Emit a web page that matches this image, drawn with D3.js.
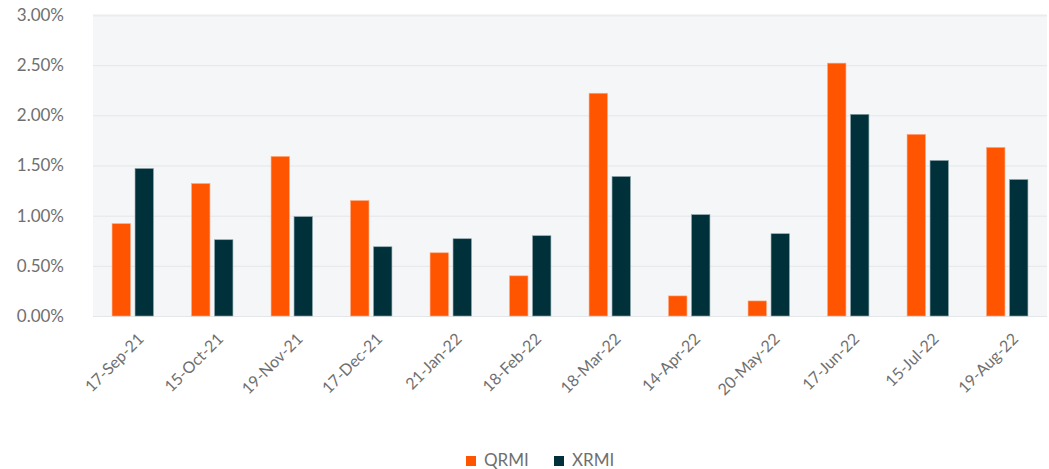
<!DOCTYPE html>
<html>
<head>
<meta charset="utf-8">
<script src="https://cdn.jsdelivr.net/npm/d3@7"></script>
<style>
  body { margin: 0; background: #fff; }
  svg { display: block; font-family: Lato, "Open Sans", sans-serif; }
</style>
</head>
<body>
<svg></svg>
<script>
// Chart data
const dates = ["17-Sep-21", "15-Oct-21", "19-Nov-21", "17-Dec-21", "21-Jan-22", "18-Feb-22",
               "18-Mar-22", "14-Apr-22", "20-May-22", "17-Jun-22", "15-Jul-22", "19-Aug-22"];
const qrmi = [0.92, 1.32, 1.59, 1.15, 0.63, 0.40, 2.22, 0.20, 0.15, 2.52, 1.81, 1.68];
const xrmi = [1.47, 0.76, 0.99, 0.69, 0.77, 0.80, 1.39, 1.01, 0.82, 2.01, 1.55, 1.36];
const seriesNames = ["QRMI", "XRMI"];
const yTicks = [0, 0.5, 1, 1.5, 2, 2.5, 3];

const width = 1049;
const height = 469;
const margin = { top: 15, right: 2, bottom: 153, left: 93 };
const colors = { QRMI: "#ff5500", XRMI: "#00303a" };

const svg = d3.select("svg")
    .attr("width", width)
    .attr("height", height);

const innerW = width - margin.left - margin.right;
const innerH = height - margin.top - margin.bottom;

const g = svg.append("g").attr("transform", `translate(${margin.left},${margin.top})`);

// Scales
const x0 = d3.scaleBand().domain(dates).range([0, innerW]).paddingInner(0.48).paddingOuter(0.24);
const x1 = d3.scaleBand().domain(seriesNames).range([0, x0.bandwidth()]).paddingInner(0.2);
const y = d3.scaleLinear().domain([0, 3]).range([innerH, 0]);

// Plot background
g.append("rect")
    .attr("width", innerW)
    .attr("height", innerH)
    .attr("fill", "#f5f6f8");

// Gridlines
g.append("g")
    .selectAll("line")
    .data(yTicks)
    .enter().append("line")
    .attr("x1", 0)
    .attr("x2", innerW)
    .attr("y1", d => y(d) + 0.5)
    .attr("y2", d => y(d) + 0.5)
    .attr("stroke", d => d === 3 ? "#ececee" : "#e4e6e9")
    .attr("stroke-width", d => d === 3 ? 2 : 1);

// Y axis labels
const yAxis = g.append("g")
    .call(d3.axisLeft(y).tickValues(yTicks).tickSize(0).tickPadding(29).tickFormat(d => d.toFixed(2) + "%"));
yAxis.select(".domain").remove();
yAxis.selectAll("text")
    .attr("fill", "#6f6f6f")
    .style("font-size", "17px")
    .style("font-family", "Lato, sans-serif");

// Bars
const groups = g.append("g")
    .selectAll("g")
    .data(dates.map((d, i) => ({ date: d, values: [{ key: "QRMI", v: qrmi[i] }, { key: "XRMI", v: xrmi[i] }] })))
    .enter().append("g")
    .attr("transform", d => `translate(${x0(d.date)},0)`);

groups.selectAll("rect")
    .data(d => d.values)
    .enter().append("rect")
    .attr("x", d => x1(d.key))
    .attr("y", d => y(d.v))
    .attr("width", x1.bandwidth())
    .attr("height", d => innerH - y(d.v))
    .attr("fill", d => colors[d.key])
    .attr("stroke", d => d.key === "QRMI" ? "#ffa47a" : "#8aa3a8")
    .attr("stroke-width", 0.6);

// X axis labels
const xAxis = g.append("g")
    .attr("transform", `translate(0,${innerH})`)
    .call(d3.axisBottom(x0).tickSize(0).tickPadding(0));
xAxis.select(".domain").remove();
xAxis.selectAll("text")
    .attr("fill", "#6f6f6f")
    .style("font-size", "16px")
    .style("font-family", "Lato, sans-serif")
    .attr("text-anchor", "end")
    .attr("dy", "0")
    .attr("transform", "translate(12,24) rotate(-45)");

// Legend
const legend = svg.append("g").attr("transform", "translate(466,456)");
const legendX = d3.scaleOrdinal().domain(seriesNames).range([0, 88]);
const items = legend.selectAll("g")
    .data(seriesNames)
    .enter().append("g")
    .attr("transform", d => `translate(${legendX(d)},0)`);
items.append("rect")
    .attr("width", 10)
    .attr("height", 10)
    .attr("fill", d => colors[d]);
items.append("text")
    .attr("x", 18)
    .attr("y", 10)
    .attr("fill", "#6f6f6f")
    .style("font-size", "17px")
    .text(d => d);
</script>
</body>
</html>
